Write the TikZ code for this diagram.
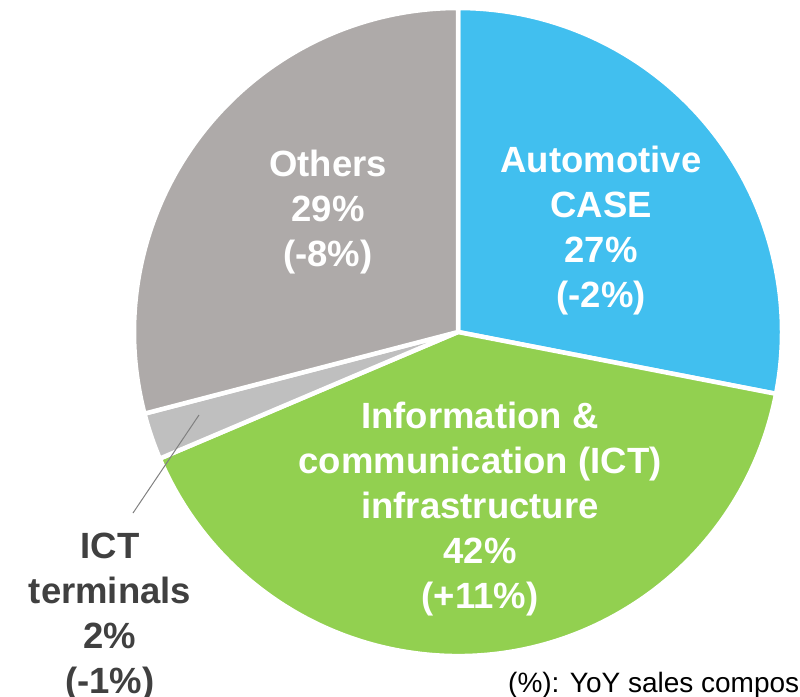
\documentclass[tikz,border=0pt]{standalone}
\usepackage{fontspec}
\setmainfont{Liberation Sans}
\definecolor{caseblue}{HTML}{41BFEF}
\definecolor{ictgreen}{HTML}{92D050}
\definecolor{othergray}{HTML}{AEAAA9}
\definecolor{termgray}{HTML}{BFBFBF}
\definecolor{txtdark}{HTML}{404040}
\tikzset{
    slice/.style={draw=white, line width=4.5pt, line join=round},
    inlabel/.style={white, font=\fontsize{36.5}{45}\selectfont\bfseries, align=center, inner sep=0pt},
}

\begin{document}
\begin{tikzpicture}[x=1pt,y=1pt]
    \useasboundingbox (0,-696) rectangle (800,0);
    \coordinate (c) at (458,-332);

    \filldraw[slice, fill=caseblue] (c) -- ++(90:324) arc[start angle=90, end angle=-11, radius=324] -- cycle; %CASE
    \filldraw[slice, fill=ictgreen] (c) -- ++(-11:324) arc[start angle=-11, end angle=-157, radius=324] -- cycle; %ICT infra
    \filldraw[slice, fill=termgray] (c) -- ++(203:324) arc[start angle=203, end angle=194.6, radius=324] -- cycle; %ICT terminals
    \filldraw[slice, fill=othergray] (c) -- ++(194.6:324) arc[start angle=194.6, end angle=90, radius=324] -- cycle; %Others

    \node[inlabel] (others) at (328,-212) {Others\\29\%\\(-8\%)};
    \node[inlabel] (autocase) at (601,-231) {Automotive\\CASE\\27\%\\(-2\%)};
    \node[inlabel] (infra) at (480,-509) {Information \&\\communication (ICT)\\infrastructure\\42\%\\(+11\%)};
    \node[inlabel, txtdark] (terminals) at (110,-617) {ICT\\terminals\\2\%\\(-1\%)};

    \coordinate (leadA) at (199,-415);
    \coordinate (leadB) at (133,-513);
    \draw[gray, line width=1pt] (leadA) -- (leadB); %leader

    \node[anchor=base west, font=\fontsize{28}{32}\selectfont, inner sep=0pt] (note) at (508,-692) {(\%): YoY sales compos};
\end{tikzpicture}
\end{document}
